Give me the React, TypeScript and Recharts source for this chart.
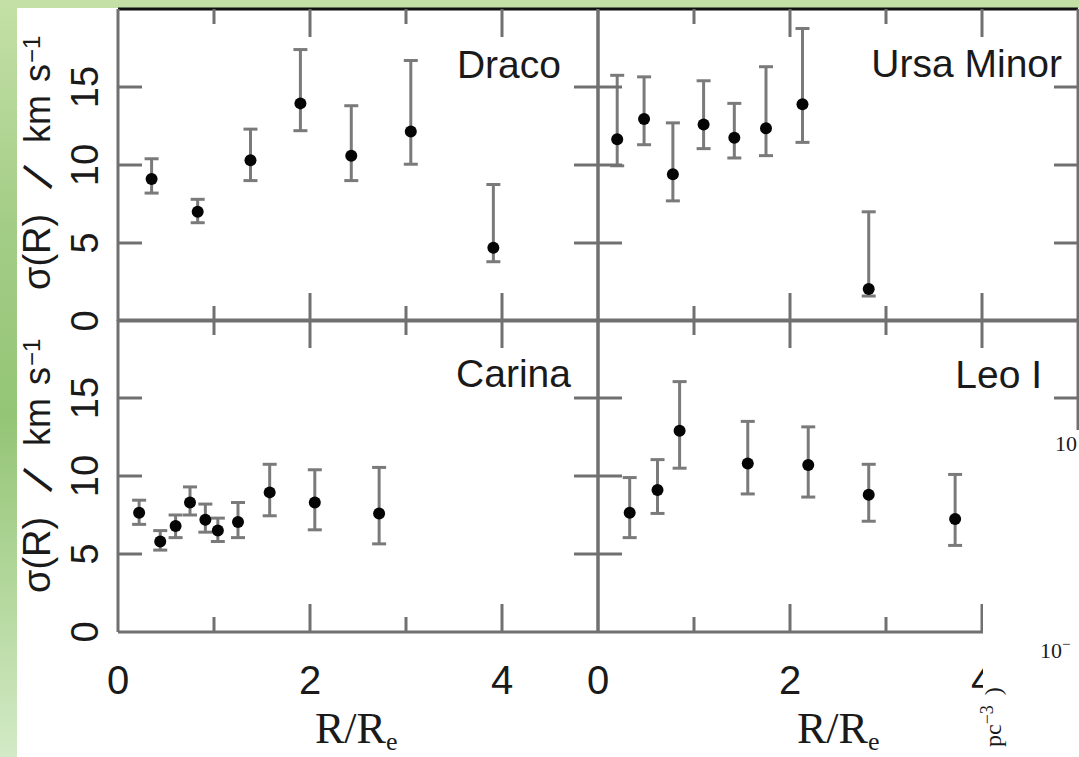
import React from 'react';
import { ScatterChart, Scatter, XAxis, YAxis, ErrorBar, ReferenceLine } from 'recharts';

const PAGE_W = 1079;
const PAGE_H = 757;
const PLOT_W = 480;
const PLOT_H = 312;

const AXIS_GREY = '#707070';
const BAR_GREY = '#7a7a7a';
const SANS = '"Liberation Sans", Arial, Helvetica, sans-serif';
const SERIF = '"Liberation Serif", "Times New Roman", serif';

const xTicks = [0, 1, 2, 3, 4];
const yTicks = [0, 5, 10, 15];
const xDomain: [number, number] = [0, 5];
const yDomain: [number, number] = [0, 20];

// Draco
const dracoRadius = [0.35, 0.83, 1.38, 1.9, 2.43, 3.05, 3.91];
const dracoSigma = [9.1, 7.0, 10.3, 13.95, 10.6, 12.15, 4.7];
const dracoLow = [8.2, 6.3, 9.0, 12.2, 9.0, 10.05, 3.8];
const dracoHigh = [10.4, 7.8, 12.3, 17.4, 13.8, 16.7, 8.75];

// Ursa Minor
const umiRadius = [0.2, 0.48, 0.78, 1.1, 1.42, 1.75, 2.13, 2.82];
const umiSigma = [11.65, 12.95, 9.4, 12.6, 11.75, 12.35, 13.9, 2.05];
const umiLow = [9.95, 11.3, 7.7, 11.05, 10.45, 10.6, 11.45, 1.6];
const umiHigh = [15.75, 15.65, 12.7, 15.4, 13.95, 16.3, 18.75, 7.0];

// Carina
const carRadius = [0.22, 0.44, 0.6, 0.75, 0.91, 1.04, 1.25, 1.58, 2.05, 2.72];
const carSigma = [7.65, 5.8, 6.8, 8.3, 7.2, 6.5, 7.05, 8.95, 8.3, 7.6];
const carLow = [6.9, 5.25, 6.05, 7.5, 6.4, 5.8, 6.05, 7.45, 6.55, 5.65];
const carHigh = [8.45, 6.5, 7.5, 9.3, 8.2, 7.3, 8.3, 10.75, 10.4, 10.55];

// Leo I
const leoRadius = [0.33, 0.62, 0.85, 1.56, 2.19, 2.82, 3.72];
const leoSigma = [7.65, 9.1, 12.9, 10.8, 10.7, 8.8, 7.25];
const leoLow = [6.05, 7.6, 10.5, 8.85, 8.65, 7.1, 5.55];
const leoHigh = [9.9, 11.05, 16.05, 13.5, 13.15, 10.75, 10.1];

type Row = { r: number; s: number; err: [number, number] };

function buildRows(radius: number[], sigma: number[], low: number[], high: number[]): Row[] {
  return radius.map((r, i) => ({
    r,
    s: sigma[i],
    err: [sigma[i] - low[i], high[i] - sigma[i]],
  }));
}

const dracoRows = buildRows(dracoRadius, dracoSigma, dracoLow, dracoHigh);
const umiRows = buildRows(umiRadius, umiSigma, umiLow, umiHigh);
const carRows = buildRows(carRadius, carSigma, carLow, carHigh);
const leoRows = buildRows(leoRadius, leoSigma, leoLow, leoHigh);

function XTick(props: any) {
  const { x, y, payload, showLabel } = props;
  const v = payload.value as number;
  const major = v % 2 === 0;
  const len = major ? 28 : 15;
  return (
    <g>
      {v > 0 && (
        <>
          <line x1={x} x2={x} y1={y} y2={y - len} stroke={AXIS_GREY} strokeWidth={3} />
          <line x1={x} x2={x} y1={y - PLOT_H} y2={y - PLOT_H + len} stroke={AXIS_GREY} strokeWidth={3} />
        </>
      )}
      {showLabel && major && (
        <text x={x} y={y + 62} textAnchor="middle" fontFamily={SANS} fontSize={40} fill="#1a1a1a">
          {v}
        </text>
      )}
    </g>
  );
}

function YTick(props: any) {
  const { x, y, payload, showLabel } = props;
  const v = payload.value as number;
  const lx = x - 20;
  return (
    <g>
      {v > 0 && (
        <>
          <line x1={x} x2={x + 24} y1={y} y2={y} stroke={AXIS_GREY} strokeWidth={3} />
          <line x1={x + PLOT_W} x2={x + PLOT_W - 24} y1={y} y2={y} stroke={AXIS_GREY} strokeWidth={3} />
        </>
      )}
      {showLabel && (
        <text
          x={lx}
          y={y}
          transform={`rotate(-90 ${lx} ${y})`}
          textAnchor="middle"
          fontFamily={SANS}
          fontSize={38}
          fill="#1a1a1a"
        >
          {v}
        </text>
      )}
    </g>
  );
}

const Dot = (p: any) => <circle cx={p.cx} cy={p.cy} r={6} fill="#050505" />;

type PanelProps = {
  data: Row[];
  margin: { left: number; right: number; top: number; bottom: number };
  showXLabels: boolean;
  showYLabels: boolean;
  topColor: string;
};

// plot rectangle is given directly; the 1px axis bands are taken out of the margins
function Panel({ data, margin, showXLabels, showYLabels, topColor }: PanelProps) {
  const m = { ...margin, left: margin.left - 1, bottom: margin.bottom - 1 };
  return (
    <div style={{ position: 'absolute', left: 0, top: 0 }}>
      <ScatterChart width={PAGE_W} height={PAGE_H} margin={m}>
        <XAxis
          type="number"
          dataKey="r"
          domain={xDomain}
          ticks={xTicks}
          interval={0}
          height={1}
          tickSize={0}
          tickMargin={0}
          tickLine={false}
          axisLine={{ stroke: AXIS_GREY, strokeWidth: 3 }}
          tick={(p: any) => <XTick {...p} showLabel={showXLabels} />}
          allowDataOverflow
        />
        <YAxis
          type="number"
          dataKey="s"
          domain={yDomain}
          ticks={yTicks}
          interval={0}
          width={1}
          tickSize={0}
          tickMargin={0}
          tickLine={false}
          axisLine={{ stroke: AXIS_GREY, strokeWidth: 3 }}
          tick={(p: any) => <YTick {...p} showLabel={showYLabels} />}
          allowDataOverflow
        />
        <ReferenceLine y={20} stroke={topColor} strokeWidth={3} />
        <ReferenceLine x={5} stroke={AXIS_GREY} strokeWidth={3} />
        <Scatter data={data} isAnimationActive={false} shape={Dot}>
          <ErrorBar dataKey="err" direction="y" width={7} stroke={BAR_GREY} strokeWidth={3} isAnimationActive={false} />
        </Scatter>
      </ScatterChart>
    </div>
  );
}

function VText({ x, y, size, family = SANS, children }: any) {
  return (
    <text transform={`translate(${x} ${y}) rotate(-90)`} fontFamily={family} fontSize={size} fill="#1a1a1a">
      {children}
    </text>
  );
}

function SigmaTitle({ dy }: { dy: number }) {
  return (
    <g>
      <VText x={50} y={290 + dy} size={38}>σ(R)</VText>
      <text
        transform={`translate(38 ${177 + dy}) rotate(-68)`}
        textAnchor="middle"
        dominantBaseline="central"
        fontFamily={SANS}
        fontSize={46}
        fill="#1a1a1a"
      >
        /
      </text>
      <VText x={50} y={143 + dy} size={36}>km</VText>
      <VText x={50} y={82 + dy} size={36}>s</VText>
      <VText x={40} y={63 + dy} size={24}>−1</VText>
    </g>
  );
}

function RatioTitle({ x }: { x: number }) {
  return (
    <text x={x} y={743} fontFamily={SERIF} fontSize={44} fill="#1a1a1a">
      R/R
      <tspan fontSize={26} dy={7}>e</tspan>
    </text>
  );
}

export default function App() {
  return (
    <div
      style={{
        position: 'absolute',
        left: 0,
        top: 0,
        width: PAGE_W,
        height: PAGE_H,
        overflow: 'hidden',
        background: 'linear-gradient(180deg, #c4e0a6 0%, #a3cd86 30%, #94c576 55%, #b6d9a0 80%, #d3eac6 100%)',
      }}
    >
      <div style={{ position: 'absolute', left: 17, top: 8, width: PAGE_W - 17, height: PAGE_H - 8, background: '#ffffff' }} />

      <Panel
        data={dracoRows}
        margin={{ left: 118, right: PAGE_W - 598, top: 9, bottom: PAGE_H - 321 }}
        showXLabels={false}
        showYLabels
        topColor="#111111"
      />
      <Panel
        data={umiRows}
        margin={{ left: 598, right: PAGE_W - 1078, top: 9, bottom: PAGE_H - 321 }}
        showXLabels={false}
        showYLabels={false}
        topColor="#111111"
      />
      <Panel
        data={carRows}
        margin={{ left: 118, right: PAGE_W - 598, top: 320, bottom: PAGE_H - 632 }}
        showXLabels
        showYLabels
        topColor={AXIS_GREY}
      />
      <Panel
        data={leoRows}
        margin={{ left: 598, right: PAGE_W - 1078, top: 320, bottom: PAGE_H - 632 }}
        showXLabels
        showYLabels={false}
        topColor={AXIS_GREY}
      />

      <svg
        width={PAGE_W}
        height={PAGE_H}
        style={{ position: 'absolute', left: 0, top: 0, pointerEvents: 'none' }}
      >
        <g fontFamily={SANS} fontSize={39} fill="#1a1a1a">
          <text x={561} y={78} textAnchor="end">Draco</text>
          <text x={1062} y={77} textAnchor="end">Ursa Minor</text>
          <text x={571} y={387} textAnchor="end">Carina</text>
          <text x={1042} y={388} textAnchor="end">Leo I</text>
        </g>

        <SigmaTitle dy={0} />
        <SigmaTitle dy={303} />

        <RatioTitle x={315} />
        <RatioTitle x={797} />

        {/* neighbouring figure overlapping the lower right corner */}
        <rect x={983} y={430} width={PAGE_W - 983} height={PAGE_H - 430} fill="#ffffff" />
        <text x={1055} y={451} fontFamily={SERIF} fontSize={22} fill="#1a1a1a">10</text>
        <text x={1040} y={658} fontFamily={SERIF} fontSize={22} fill="#1a1a1a">
          10<tspan fontSize={15} dy={-9}>−</tspan>
        </text>
        <text transform="translate(1001 747) rotate(-90)" fontFamily={SERIF} fontSize={24} fill="#1a1a1a">
          pc<tspan fontSize={18} dy={-8}>−3</tspan>
          <tspan dy={8} dx={10}>)</tspan>
        </text>
      </svg>
    </div>
  );
}
